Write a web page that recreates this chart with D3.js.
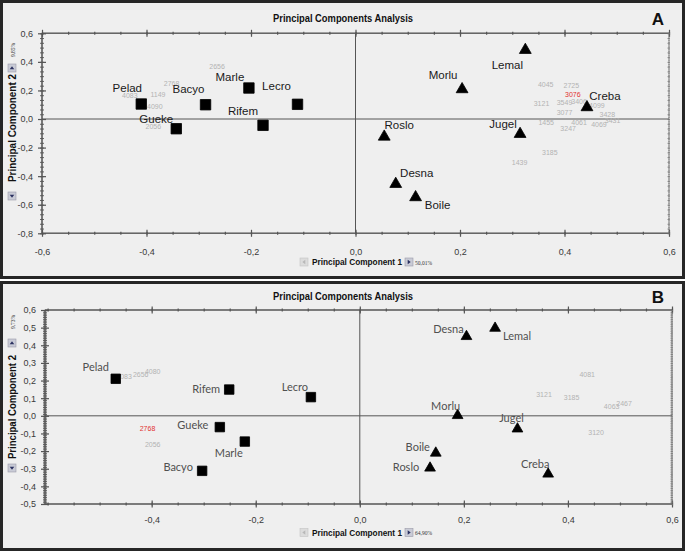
<!DOCTYPE html>
<html><head><meta charset="utf-8">
<script src="https://cdn.jsdelivr.net/npm/d3@7"></script>
<style>body{margin:0;background:#fff}svg{display:block}</style>
</head><body><svg id="c" width="685" height="552"></svg>
<script>
// ---------- DATA ----------
const titleText = "Principal Components Analysis";
const xTitle = "Principal Component 1";
const yTitle = "Principal Component 2";

// Panel A
const namesA = ["Pelad","Bacyo","Marle","Lecro","Rifem","Gueke","Lemal","Morlu","Creba","Jugel","Roslo","Desna","Boile"];
const shapeA = ["square","square","square","square","square","square","triangle","triangle","triangle","triangle","triangle","triangle","triangle"];
const pc1A = [-0.41,-0.287,-0.204,-0.111,-0.177,-0.343,0.325,0.204,0.443,0.315,0.055,0.077,0.115];
const pc2A = [0.105,0.10,0.217,0.103,-0.044,-0.068,0.483,0.208,0.082,-0.105,-0.124,-0.455,-0.548];
const numA = ["2656","2768","1149","4083","4090","2056","4045","2725","3076","3121","3549","3406","4099","3077","1455","3247","4061","4069","3428","3431","3185","1439"];
const numRedA = ["3076"];
const num1A = [-0.265,-0.352,-0.378,-0.432,-0.384,-0.387,0.364,0.413,0.416,0.356,0.40,0.428,0.462,0.40,0.365,0.407,0.428,0.466,0.482,0.492,0.372,0.314];
const num2A = [0.371,0.252,0.175,0.168,0.086,-0.049,0.245,0.238,0.173,0.11,0.114,0.125,0.098,0.047,-0.026,-0.065,-0.022,-0.04,0.03,-0.012,-0.236,-0.306];
const xTicksA = [-0.6,-0.4,-0.2,0.0,0.2,0.4,0.6];
const yTicksA = [0.6,0.4,0.2,0.0,-0.2,-0.4,-0.6,-0.8];
const pctXA = "50,01%";
const pctYA = "9,85%";

// Panel B
const namesB = ["Pelad","Rifem","Lecro","Gueke","Marle","Bacyo","Desna","Lemal","Morlu","Jugel","Boile","Roslo","Creba"];
const shapeB = ["square","square","square","square","square","square","triangle","triangle","triangle","triangle","triangle","triangle","triangle"];
const pc1B = [-0.469,-0.251,-0.094,-0.269,-0.221,-0.303,0.205,0.26,0.188,0.303,0.146,0.135,0.362];
const pc2B = [0.21,0.149,0.106,-0.064,-0.146,-0.312,0.45,0.497,0.002,-0.074,-0.211,-0.296,-0.33];
const numB = ["4083","2656","4080","2768","2056","4081","3121","3185","4063","2467","3120"];
const numRedB = ["2768"];
const num1B = [-0.453,-0.421,-0.398,-0.408,-0.398,0.437,0.354,0.407,0.484,0.508,0.454];
const num2B = [0.224,0.232,0.252,-0.07,-0.16,0.236,0.119,0.106,0.052,0.068,-0.092];
const xTicksB = [-0.4,-0.2,0.0,0.2,0.4,0.6];
const yTicksB = [0.6,0.5,0.4,0.3,0.2,0.1,0.0,-0.1,-0.2,-0.3,-0.4,-0.5];
const pctXB = "64,90%";
const pctYB = "9,73%";

// ---------- LAYOUT (positions / styles) ----------
const layoutA = {
  letter:"A", box:[1.5,1.5,682,276],
  xd:[-0.6,0.6], yd:[-0.8,0.6], xl:42, xr:669, yb:233.3, yt:33.3,
  xMinorStep:0.05, yMinorStep:0.2/6, titleY:18, xTitleY:262, yTitleC:128, yTitleLen:108,
  upIconY:68, downIconY:196, pctYY:50, labelFont:"Liberation Sans, Arial, sans-serif", labelSize:11.5, labelColor:"#1a1a1a",
  markSize:11, xLabelDy:15,
  offs:{Pelad:[-14,-16],Bacyo:[-17,-16],Marle:[-19,-11],Lecro:[-21,-18],Rifem:[-20,-14],Gueke:[-20,-10],
        Lemal:[-18,15],Morlu:[-19,-14],Creba:[18,-11],Jugel:[-17,-10],Roslo:[15,-12],Desna:[21,-11],Boile:[22,8]}
};
const layoutB = {
  letter:"B", box:[1.5,282.5,682,267],
  xd:[-0.605,0.6], yd:[-0.5,0.6], xl:45, xr:672, yb:504, yt:310,
  xMinorStep:0.05, yMinorStep:0.01, titleY:296, xTitleY:532.5, yTitleC:407, yTitleLen:104,
  upIconY:343, downIconY:468, pctYY:322, labelFont:"Lato, 'Open Sans', sans-serif", labelSize:11, labelColor:"#505050",
  markSize:10, xLabelDy:13,
  offs:{Pelad:[-20,-12],Rifem:[-23,-1],Lecro:[-16,-11],Gueke:[-27,-3],Marle:[-16,11],Bacyo:[-24,-4],
        Desna:[-18,-8],Lemal:[22,7],Morlu:[-12,-10],Jugel:[-6,-11],Boile:[-18,-7],Roslo:[-24,-2],Creba:[-13,-11]}
};

const svg = d3.select("#c");
const fmt = v => d3.format(".1f")(v).replace("\u2212","-").replace(".",",");

function icon(g, cx, cy, dir, light){
  g.append("rect").attr("x",cx-4).attr("y",cy-4).attr("width",8).attr("height",8)
    .attr("fill", light ? "#dcdcdc" : "#c9cbd6").attr("stroke", light ? "#c4c4c4" : "#9a9aa8").attr("stroke-width",0.6);
  let p;
  if(dir==="r") p=`M${cx-1.3},${cy-2.3}L${cx+1.7},${cy}L${cx-1.3},${cy+2.3}Z`;
  if(dir==="l") p=`M${cx+1.3},${cy-2.3}L${cx-1.7},${cy}L${cx+1.3},${cy+2.3}Z`;
  if(dir==="u") p=`M${cx-2.3},${cy+1.3}L${cx},${cy-1.7}L${cx+2.3},${cy+1.3}Z`;
  if(dir==="d") p=`M${cx-2.3},${cy-1.3}L${cx},${cy+1.7}L${cx+2.3},${cy-1.3}Z`;
  g.append("path").attr("d",p).attr("fill", light ? "#b8b8b8" : "#2b3160");
}

function drawPanel(L, D){
  const g = svg.append("g");
  const [bx,by,bw,bh] = L.box;
  g.append("rect").attr("x",bx).attr("y",by).attr("width",bw).attr("height",bh)
    .attr("fill","#efefef").attr("stroke","#262626").attr("stroke-width",3);

  const x = d3.scaleLinear().domain(L.xd).range([L.xl,L.xr]);
  const y = d3.scaleLinear().domain(L.yd).range([L.yb,L.yt]);

  g.append("rect").attr("x",L.xl).attr("y",L.yt).attr("width",L.xr-L.xl).attr("height",L.yb-L.yt)
    .attr("fill","none").attr("stroke","#8a8a8a").attr("stroke-width",1);
  g.append("line").attr("x1",L.xl).attr("x2",L.xr).attr("y1",L.yb).attr("y2",L.yb).attr("stroke","#666").attr("stroke-width",1.6);
  g.append("line").attr("x1",L.xl).attr("x2",L.xr).attr("y1",L.yt).attr("y2",L.yt).attr("stroke","#666").attr("stroke-width",1.6);
  g.append("line").attr("x1",L.xl).attr("x2",L.xl).attr("y1",L.yt).attr("y2",L.yb).attr("stroke","#666").attr("stroke-width",1.6);

  g.append("line").attr("x1",x(0)).attr("x2",x(0)).attr("y1",L.yt).attr("y2",L.yb).attr("stroke","#555").attr("stroke-width",1);
  g.append("line").attr("x1",L.xl).attr("x2",L.xr).attr("y1",y(0)).attr("y2",y(0)).attr("stroke","#555").attr("stroke-width",1);

  const minorX = d3.range(Math.ceil(L.xd[0]/L.xMinorStep-1e-6), Math.floor(L.xd[1]/L.xMinorStep+1e-6)+1).map(k=>k*L.xMinorStep);
  const minorY = d3.range(Math.ceil(L.yd[0]/L.yMinorStep-1e-6), Math.floor(L.yd[1]/L.yMinorStep+1e-6)+1).map(k=>k*L.yMinorStep);

  function styleTicks(sel, a, b, col, w){
    sel.select(".domain").remove();
    sel.selectAll(".tick line").attr("stroke",col).attr("stroke-width",w);
    sel.selectAll(".tick line").each(function(){
      const l=d3.select(this);
      if(l.attr("x2")!==null && +l.attr("x2")!==0) l.attr("x1",a).attr("x2",b);
      else l.attr("y1",a).attr("y2",b);
    });
  }
  [L.yb, L.yt].forEach((yy,i)=>{
    const gm = g.append("g").attr("transform",`translate(0,${yy})`)
      .call(d3.axisBottom(x).tickValues(minorX).tickSize(2).tickFormat(""));
    styleTicks(gm,-1.5,1.5,"#555",1.2);
    const gM = g.append("g").attr("transform",`translate(0,${yy})`)
      .call(d3.axisBottom(x).tickValues(D.xTicks).tickSize(4).tickPadding(L.xLabelDy-4).tickFormat(i===0?fmt:""));
    styleTicks(gM,-3.5,3.5,"#555",1.2);
    gM.selectAll("text").attr("font-family","Liberation Sans, Arial, sans-serif").attr("font-size",9).attr("fill","#3a3a3a");
  });
  const glm = g.append("g").attr("transform",`translate(${L.xl},0)`)
    .call(d3.axisLeft(y).tickValues(minorY).tickSize(2).tickFormat(""));
  styleTicks(glm,-2,2,"#555",0.9);
  const glM = g.append("g").attr("transform",`translate(${L.xl},0)`)
    .call(d3.axisLeft(y).tickValues(D.yTicks).tickSize(4).tickPadding(5).tickFormat(fmt));
  styleTicks(glM,-4,4,"#555",1.2);
  glM.selectAll("text").attr("font-family","Liberation Sans, Arial, sans-serif").attr("font-size",9).attr("fill","#3a3a3a");
  const grm = g.append("g").attr("transform",`translate(${L.xr},0)`)
    .call(d3.axisLeft(y).tickValues(minorY).tickSize(2).tickFormat(""));
  styleTicks(grm,-1.5,0.8,"#777",0.8);
  g.append("line").attr("x1",L.xr).attr("x2",L.xr).attr("y1",L.yt).attr("y2",L.yb).attr("stroke","#777").attr("stroke-width",1).attr("stroke-dasharray","1,1.2");

  g.append("text").attr("x",343).attr("y",L.titleY).attr("text-anchor","middle").attr("dominant-baseline","central")
    .attr("font-family","Liberation Sans, Arial, sans-serif").attr("font-weight","bold").attr("font-size",10)
    .attr("textLength",140).attr("lengthAdjust","spacingAndGlyphs").attr("fill","#111").text(titleText);
  g.append("text").attr("x",658).attr("y",(L.titleY+1)).attr("text-anchor","middle").attr("dominant-baseline","central")
    .attr("font-family","Liberation Sans, Arial, sans-serif").attr("font-weight","bold").attr("font-size",17)
    .attr("fill","#111").text(L.letter);

  icon(g, 304, L.xTitleY, "l", true);
  g.append("text").attr("x",312).attr("y",L.xTitleY).attr("dominant-baseline","central")
    .attr("font-family","Liberation Sans, Arial, sans-serif").attr("font-weight","bold").attr("font-size",9)
    .attr("textLength",90).attr("lengthAdjust","spacingAndGlyphs").attr("fill","#111").text(xTitle);
  icon(g, 409, L.xTitleY, "r", false);
  g.append("text").attr("x",415).attr("y",L.xTitleY+0.5).attr("dominant-baseline","central")
    .attr("font-family","Liberation Serif, serif").attr("font-size",5.5).attr("fill","#333").text(D.pctX);

  g.append("text").attr("transform",`translate(12,${L.yTitleC}) rotate(-90)`).attr("text-anchor","middle").attr("dominant-baseline","central")
    .attr("font-family","Liberation Sans, Arial, sans-serif").attr("font-weight","bold").attr("font-size",10)
    .attr("textLength",L.yTitleLen).attr("lengthAdjust","spacingAndGlyphs").attr("fill","#111").text(yTitle);
  icon(g, 12, L.upIconY, "u", false);
  icon(g, 12, L.downIconY, "d", false);
  g.append("text").attr("transform",`translate(12.5,${L.pctYY}) rotate(-90)`).attr("text-anchor","middle").attr("dominant-baseline","central")
    .attr("font-family","Liberation Serif, serif").attr("font-size",5.5).attr("fill","#333").text(D.pctY);

  g.append("g").selectAll("text").data(D.nums.map((t,i)=>({t,a:D.n1[i],b:D.n2[i]}))).join("text")
    .attr("x",d=>x(d.a)).attr("y",d=>y(d.b)).attr("text-anchor","middle").attr("dominant-baseline","central")
    .attr("font-family","Liberation Sans Narrow, Liberation Sans, Arial, sans-serif").attr("font-size",7)
    .attr("fill",d=>D.red.includes(d.t)?"#e2312f":"#b3b3b3").text(d=>d.t);

  const pts = D.names.map((n,i)=>({n,s:D.shape[i],a:D.pc1[i],b:D.pc2[i]}));
  const sq = L.markSize;
  g.append("g").selectAll("path").data(pts).join("path")
    .attr("transform",d=>`translate(${x(d.a)},${y(d.b)})`)
    .attr("d",d=> d.s==="square"
      ? d3.symbol(d3.symbolSquare, sq*sq*0.9)()
      : d3.symbol(d3.symbolTriangle, sq*sq*0.5)())
    .attr("fill","#000").attr("stroke","#000").attr("stroke-width",0.8).attr("stroke-linejoin","round");

  g.append("g").selectAll("text").data(pts).join("text")
    .attr("x",d=>x(d.a)+L.offs[d.n][0]).attr("y",d=>y(d.b)+L.offs[d.n][1])
    .attr("text-anchor","middle").attr("dominant-baseline","central")
    .attr("font-family",L.labelFont).attr("font-size",L.labelSize).attr("fill",L.labelColor).text(d=>d.n);
}

drawPanel(layoutA, {names:namesA, shape:shapeA, pc1:pc1A, pc2:pc2A, nums:numA, red:numRedA, n1:num1A, n2:num2A,
  xTicks:xTicksA, yTicks:yTicksA, pctX:pctXA, pctY:pctYA});
drawPanel(layoutB, {names:namesB, shape:shapeB, pc1:pc1B, pc2:pc2B, nums:numB, red:numRedB, n1:num1B, n2:num2B,
  xTicks:xTicksB, yTicks:yTicksB, pctX:pctXB, pctY:pctYB});
</script></body></html>
